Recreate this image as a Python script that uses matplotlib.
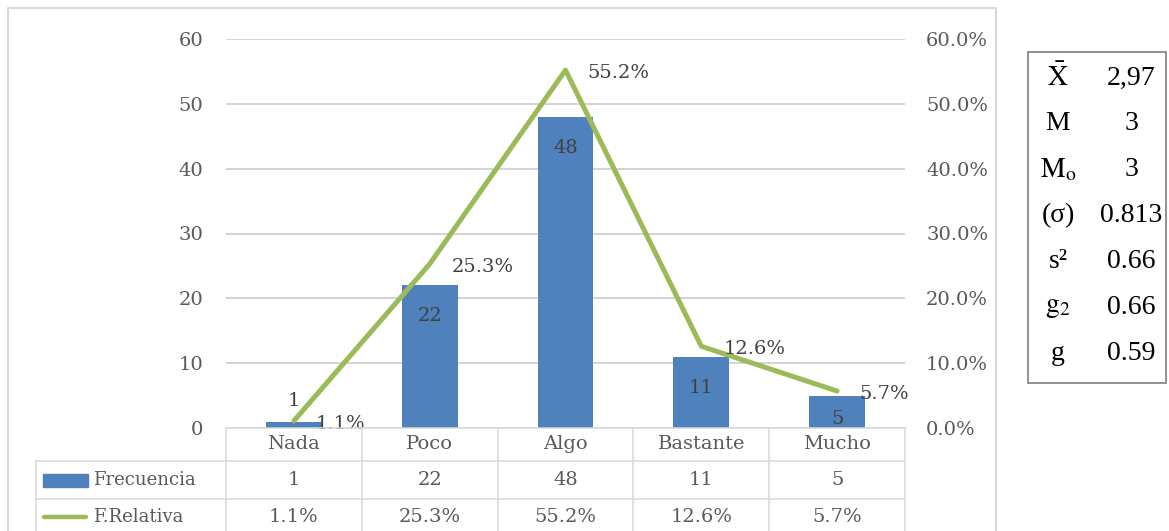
import matplotlib
matplotlib.use("Agg")
import matplotlib.pyplot as plt
from matplotlib.patches import Rectangle
from matplotlib.lines import Line2D
from matplotlib.transforms import blended_transform_factory

# data
categorias = ['Nada', 'Poco', 'Algo', 'Bastante', 'Mucho']
frecuencia = [1, 22, 48, 11, 5]
relativa = [1.1, 25.3, 55.2, 12.6, 5.7]  # en %
ticks_izq = [0, 10, 20, 30, 40, 50, 60]
ticks_der = [0.0, 0.1, 0.2, 0.3, 0.4, 0.5, 0.6]

stats_labels = [r'$\bar{\mathrm{X}}$', 'M', r'$\mathrm{M}_{\mathrm{o}}$', '(σ)', 's²',
                r'$\mathrm{g}_{2}$', 'g']
stats_values = ['2,97', '3', '3', '0.813', '0.66', '0.66', '0.59']

# colors
AZUL = '#4f81bd'
VERDE = '#9bbb59'
GRIS_TXT = '#595959'
GRIS_LIN = '#d9d9d9'

plt.rcParams['font.family'] = ['DejaVu Serif']
plt.rcParams['mathtext.fontset'] = 'stix'

W, H = 1169, 531


def fx(px):
    return px / W


def fy(py):
    return 1 - py / H


def pt(px):
    return px * 72 / 100


fig = plt.figure(figsize=(W / 100, H / 100), dpi=100)
ax = fig.add_axes([fx(226), fy(428), fx(905) - fx(226), fy(39) - fy(428)])
ax2 = ax.twinx()

x = list(range(len(categorias)))

# barras
ax.bar(x, frecuencia, width=0.41, color=AZUL, zorder=2)
ax.set_xlim(-0.5, len(categorias) - 0.5)
ax.set_ylim(0, 60)
ax.set_yticks(ticks_izq)
ax.set_xticks([])
ax.yaxis.grid(True, color='#c8c8c8', linewidth=1.1, zorder=0)
ax.set_axisbelow(True)
ax.tick_params(axis='y', length=0, pad=pt(23), labelsize=14, labelcolor=GRIS_TXT)
for s in ax.spines.values():
    s.set_visible(False)

for i, v in enumerate(frecuencia):
    if v < 3:
        ax.annotate(str(v), (i, v), xytext=(0, pt(12)), textcoords='offset points',
                    ha='center', va='bottom', fontsize=14, color='#404040')
    else:
        off = 22 if v >= 10 else 14
        ax.annotate(str(v), (i, v), xytext=(0, -pt(off)), textcoords='offset points',
                    ha='center', va='top', fontsize=14, color='#404040')

# linea
ax2.plot(x, [r / 100 for r in relativa], color=VERDE, linewidth=3.6,
         solid_capstyle='round', solid_joinstyle='round', zorder=3)
ax2.set_ylim(0, 0.6)
ax2.set_yticks(ticks_der)
ax2.set_yticklabels([f'{t * 100:.1f}%' for t in ticks_der])
ax2.tick_params(axis='y', length=0, pad=pt(21), labelsize=14, labelcolor=GRIS_TXT)
for s in ax2.spines.values():
    s.set_visible(False)

for i, r in enumerate(relativa):
    ax2.annotate(f'{r:.1f}%', (i, r / 100), xytext=(pt(22), -pt(3)), textcoords='offset points',
                 ha='left', va='center', fontsize=14, color='#404040')

# tabla de datos
trans = blended_transform_factory(ax.transData, fig.transFigure)
for b in [i - 0.5 for i in range(len(categorias) + 1)]:
    fig.add_artist(Line2D([b, b], [fy(428), fy(545)], transform=trans,
                          color=GRIS_LIN, linewidth=1.1))
for yy in [428, 461, 499]:
    x0 = 226 if yy == 428 else 36
    fig.add_artist(Line2D([fx(x0), fx(905)], [fy(yy), fy(yy)], color=GRIS_LIN, linewidth=1.1))
fig.add_artist(Line2D([fx(36), fx(36)], [fy(461), fy(545)], color=GRIS_LIN, linewidth=1.1))

for i, c in enumerate(categorias):
    fig.text(i, fy(444), c, transform=trans, ha='center', va='center',
             fontsize=14, color=GRIS_TXT)
    fig.text(i, fy(480), str(frecuencia[i]), transform=trans, ha='center', va='center',
             fontsize=14, color=GRIS_TXT)
    fig.text(i, fy(517), f'{relativa[i]:.1f}%', transform=trans, ha='center', va='center',
             fontsize=14, color=GRIS_TXT)

fig.add_artist(Rectangle((fx(43), fy(487)), fx(88) - fx(43), fy(474) - fy(487), color=AZUL))
fig.add_artist(Line2D([fx(44), fx(86)], [fy(517), fy(517)], color=VERDE, linewidth=3.2,
                      solid_capstyle='round'))
fig.text(fx(93), fy(480), 'Frecuencia', ha='left', va='center', fontsize=13, color=GRIS_TXT)
fig.text(fx(93), fy(517), 'F.Relativa', ha='left', va='center', fontsize=13, color=GRIS_TXT)

# borde del grafico
fig.add_artist(Line2D([fx(8), fx(8), fx(996), fx(996)], [fy(545), fy(8), fy(8), fy(545)],
                      color=GRIS_LIN, linewidth=1.5))

# cuadro de estadisticos
fig.add_artist(Rectangle((fx(1028), fy(383)), fx(1166) - fx(1028), fy(52) - fy(383),
                         fill=False, edgecolor='#7f7f7f', linewidth=1.2))
for k, (lab, val) in enumerate(zip(stats_labels, stats_values)):
    yy = 78 + 46 * k
    fig.text(fx(1058), fy(yy), lab, ha='center', va='center', fontsize=20,
             family='Liberation Serif', color='black')
    fig.text(fx(1131), fy(yy), val, ha='center', va='center', fontsize=20,
             family='Liberation Serif', color='black')

fig.savefig('out.png', dpi=100)
